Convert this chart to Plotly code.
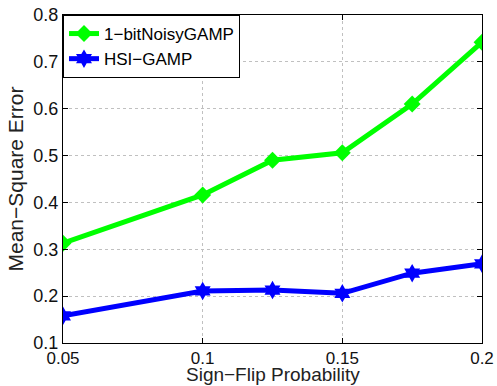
import plotly.graph_objects as go

x_vals = [0.05, 0.1, 0.125, 0.15, 0.175, 0.2]
noisy_gamp = [0.313, 0.416, 0.490, 0.506, 0.610, 0.742]
hsi_gamp = [0.158, 0.211, 0.213, 0.206, 0.249, 0.269]
x_ticks = [0.05, 0.1, 0.15, 0.2]
x_ticktext = ["0.05", "0.1", "0.15", "0.2"]
y_ticks = [0.1, 0.2, 0.3, 0.4, 0.5, 0.6, 0.7, 0.8]
y_ticktext = ["0.1", "0.2", "0.3", "0.4", "0.5", "0.6", "0.7", "0.8"]
x_title = "Sign\u2212Flip Probability"
y_title = "Mean\u2212Square Error"

font = "Liberation Sans, Arial, sans-serif"

fig = go.Figure()
fig.add_trace(go.Scatter(
    x=x_vals, y=noisy_gamp, mode="lines+markers", name="1\u2212bitNoisyGAMP",
    line=dict(color="#00ff00", width=5),
    marker=dict(symbol="diamond", size=13, color="#00ff00"),
))
fig.add_trace(go.Scatter(
    x=x_vals, y=hsi_gamp, mode="lines+markers", name="HSI\u2212GAMP",
    line=dict(color="#0000ff", width=5),
    marker=dict(symbol="hexagram", size=14, color="#0000ff"),
))

axis_common = dict(
    showline=True, linecolor="black", linewidth=1, mirror="allticks",
    ticks="inside", ticklen=5, tickcolor="black",
    showgrid=True, gridcolor="#c0c0c0", griddash="dot", gridwidth=1,
    zeroline=False, automargin=False,
)

fig.update_xaxes(
    range=[0.05, 0.2], tickvals=x_ticks, ticktext=x_ticktext,
    tickfont=dict(family=font, size=17, color="#111"),
    ticklabelstandoff=0,
    **axis_common,
)
fig.update_yaxes(
    range=[0.1, 0.8], tickvals=y_ticks, ticktext=y_ticktext,
    tickfont=dict(family=font, size=18, color="#111"),
    title=dict(text=y_title, font=dict(family=font, size=21, color="#222"), standoff=4),
    **axis_common,
)

fig.add_annotation(
    text=x_title, xref="paper", yref="paper", x=0.5, y=-0.096,
    xanchor="center", yanchor="middle", showarrow=False,
    font=dict(family=font, size=19, color="#222"),
)

fig.update_layout(
    width=497, height=386,
    margin=dict(l=63, r=15, t=15, b=43),
    plot_bgcolor="white", paper_bgcolor="white",
    font=dict(family=font, color="black"),
    showlegend=True,
    legend=dict(
        x=0, y=1, xanchor="left", yanchor="top",
        bgcolor="white", bordercolor="black", borderwidth=1,
        font=dict(family=font, size=17, color="black"),
        itemwidth=30, tracegroupgap=0,
    ),
)

fig.write_html("out.html")
